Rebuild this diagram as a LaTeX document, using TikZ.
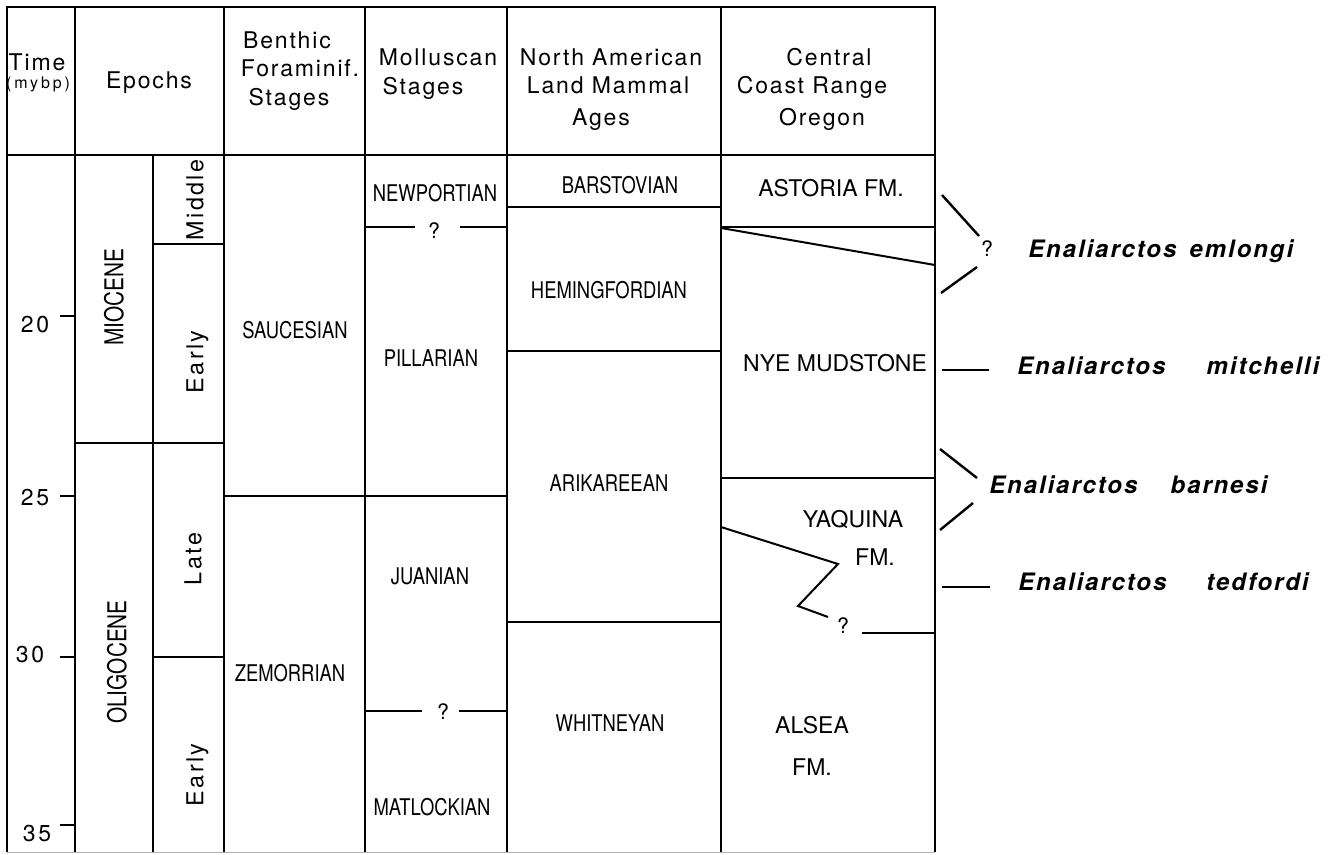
\documentclass[tikz,border=0pt]{standalone}
\usepackage{fontspec}
\setmainfont{TeX Gyre Heros}
\newfontfamily\hdrfont[LetterSpace=8]{TeX Gyre Heros}
\newfontfamily\unitfont[LetterSpace=18]{TeX Gyre Heros}
\newfontfamily\subfont[LetterSpace=10]{TeX Gyre Heros}
\newfontfamily\stagefont[FakeStretch=0.8]{TeX Gyre Heros}
\newfontfamily\taxonfont[LetterSpace=8]{TeX Gyre Heros}

\begin{document}
\begin{tikzpicture}[x=0.75pt,y=-0.75pt,
    rule/.style={line width=1.5pt},
    brace/.style={line width=1.8pt},
    hdr/.style={font=\hdrfont\fontsize{17.25}{19}\selectfont, inner sep=0pt, text height=12.4pt, text depth=0pt},
    unit/.style={font=\unitfont\fontsize{12}{14}\selectfont, inner sep=0pt, text height=8.6pt, text depth=0pt},
    era/.style={font=\stagefont\fontsize{19.5}{21}\selectfont, rotate=90, inner sep=0pt, text height=14pt, text depth=0pt},
    sub/.style={font=\subfont\fontsize{17.5}{19}\selectfont, rotate=90, inner sep=0pt, text height=12.6pt, text depth=0pt},
    stage/.style={font=\stagefont\fontsize{17.25}{19}\selectfont, inner sep=0pt, text height=12.4pt, text depth=0pt},
    fmn/.style={font=\fontsize{17.25}{19}\selectfont, inner sep=0pt, text height=12.4pt, text depth=0pt},
    query/.style={font=\fontsize{16}{18}\selectfont, inner sep=0pt, text height=11.5pt, text depth=0pt},
    taxon/.style={font=\taxonfont\bfseries\itshape\fontsize{18}{20}\selectfont, anchor=west, inner sep=0pt, text height=13pt, text depth=0pt}]
  \useasboundingbox (0,0) rectangle (1339,854);

  % Frame, header row and columns
  \draw[rule] (7,852) -- (7,7) -- (935,7) -- (935,852);
  \draw[gray!60, line width=0.6pt] (7,852) -- (935,852);
  \draw[rule] (7,155) -- (935,155);
  \foreach \cx in {75,224,365,507,721}
    \draw[rule] (\cx,7) -- (\cx,852);
  \draw[rule] (153,155) -- (153,852);

  % Header texts
  \node[hdr] (timeHdr) at (37,62) {Time};
  \node[unit] (mybp) at (38,83) {(mybp)};
  \node[hdr] (epochHdr) at (149,80) {Epochs};
  \node[hdr] (benthicA) at (287,40) {Benthic};
  \node[hdr] (benthicB) at (300,68) {Foraminif.};
  \node[hdr] (benthicC) at (289,97) {Stages};
  \node[hdr] (molluscA) at (438,57) {Molluscan};
  \node[hdr] (molluscB) at (423,86) {Stages};
  \node[hdr] (nalmaA) at (611,57) {North\hspace{6pt}American};
  \node[hdr] (nalmaB) at (608,85) {Land Mammal};
  \node[hdr] (nalmaC) at (601,117) {Ages};
  \node[hdr] (coastA) at (829,57) {Central};
  \node[hdr] (coastB) at (812,85) {Coast Range};
  \node[hdr] (coastC) at (822,117) {Oregon};

  % Time scale
  \foreach \ty/\ta/\tb/\tx/\dy in {316/2/0/35/8, 496/2/5/35/1, 657/3/0/30/-3, 825/3/5/37/8} {
    \draw[rule] (60,\ty) -- (75,\ty);
    \node[hdr] (age\ta\tb) at (\tx,\ty+\dy) {\ta\hspace{2pt}\tb};
  }

  % Epochs
  \draw[rule] (75,443) -- (224,443);
  \draw[rule] (153,244) -- (224,244);
  \draw[rule] (153,657) -- (224,657);
  \node[era] (mio) at (114,297) {MIOCENE};
  \node[era] (oli) at (117,662) {OLIGOCENE};
  \node[sub] (midMio) at (195,200) {Middle};
  \node[sub] (earlyMio) at (195,362) {Early};
  \node[sub] (lateOli) at (193,559) {Late};
  \node[sub] (earlyOli) at (195,775) {Early};

  % Benthic foraminiferal stages
  \draw[rule] (224,496) -- (365,496);
  \node[stage] (sauc) at (295,330) {SAUCESIAN};
  \node[stage] (zemo) at (290,673) {ZEMORRIAN};

  % Molluscan stages
  \node[stage] (newp) at (435,193) {NEWPORTIAN};
  \node[query] (qNewp) at (434,231) {?};
  \draw[rule] (365,227) -- (415,227);
  \draw[rule] (460,227) -- (507,227);
  \node[stage] (pill) at (431,358) {PILLARIAN};
  \draw[rule] (365,496) -- (507,496);
  \node[stage] (juan) at (430,576) {JUANIAN};
  \node[query] (qJuan) at (443,712) {?};
  \draw[rule] (365,711) -- (422,711);
  \draw[rule] (459,711) -- (507,711);
  \node[stage] (matl) at (432,807) {MATLOCKIAN};

  % Land mammal ages
  \draw[rule] (507,207) -- (721,207);
  \draw[rule] (507,351) -- (721,351);
  \draw[rule] (507,622) -- (721,622);
  \node[stage] (bars) at (620,185) {BARSTOVIAN};
  \node[stage] (hemi) at (609,290) {HEMINGFORDIAN};
  \node[stage] (arik) at (609,483) {ARIKAREEAN};
  \node[stage] (whit) at (610,723) {WHITNEYAN};

  % Central Coast Range formations
  \draw[rule] (721,227) -- (935,227);
  \draw[rule] (721,228) -- (935,265);
  \draw[rule] (721,478) -- (935,478);
  \draw[rule] (721,527) -- (838,564) -- (798,606) -- (828,617);
  \draw[rule] (862,633) -- (935,633);
  \node[fmn] (astoria) at (831,188) {ASTORIA FM.};
  \node[fmn] (nye) at (835,363) {NYE MUDSTONE};
  \node[fmn] (yaqA) at (853,519) {YAQUINA};
  \node[fmn] (yaqB) at (875,557) {FM.};
  \node[query] (qYaq) at (843,626) {?};
  \node[fmn] (alseaA) at (812,725) {ALSEA};
  \node[fmn] (alseaB) at (812,767) {FM.};

  % Enaliarctos species
  \draw[brace] (942,195) -- (979,236);
  \draw[brace] (977,267) -- (941,293);
  \node[query] (qEmlo) at (987,249) {?};
  \node[taxon] (emlongi) at (1028,249) {Enaliarctos\hspace{10pt}emlongi};
  \draw[brace] (942,370) -- (989,370);
  \node[taxon] (mitchelli) at (1017,366) {Enaliarctos\hspace{31pt}mitchelli};
  \draw[brace] (940,449) -- (977,478);
  \draw[brace] (973,503) -- (940,530);
  \node[taxon] (barnesi) at (989,485) {Enaliarctos\hspace{25pt}barnesi};
  \draw[brace] (942,587) -- (990,587);
  \node[taxon] (tedfordi) at (1018,582) {Enaliarctos\hspace{30pt}tedfordi};
\end{tikzpicture}
\end{document}
